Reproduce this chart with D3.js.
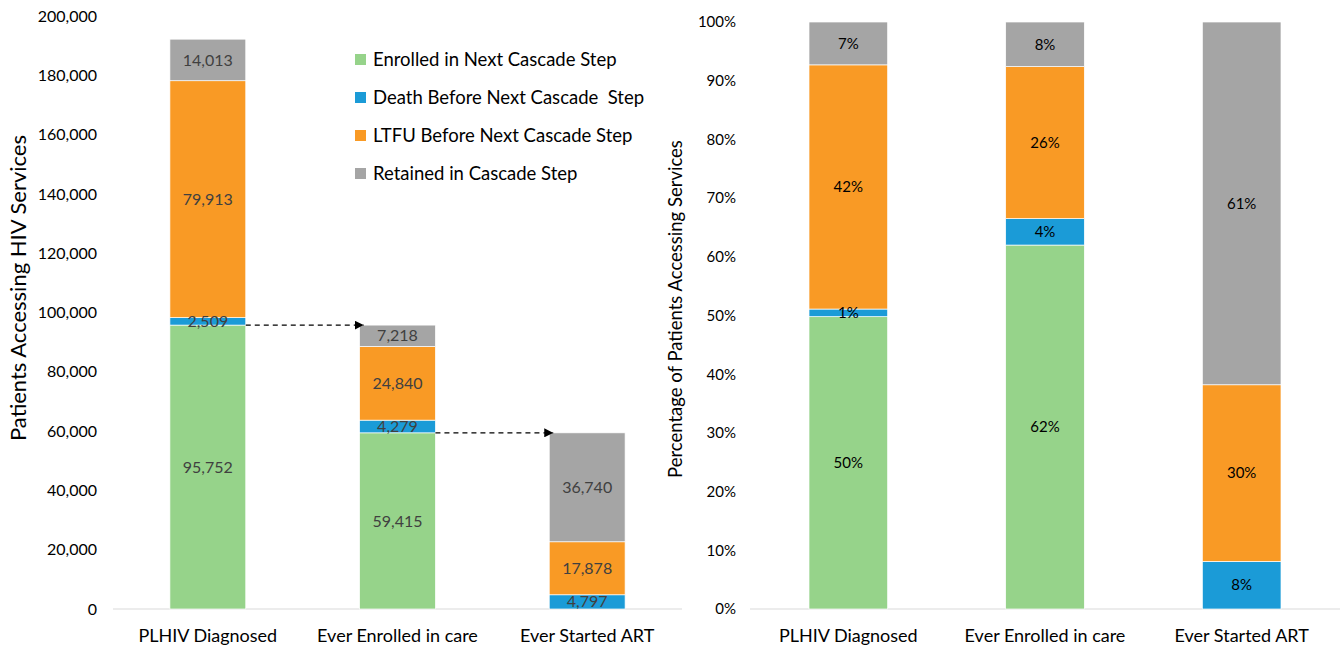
<!DOCTYPE html>
<html>
<head>
<meta charset="utf-8">
<script src="https://cdn.jsdelivr.net/npm/d3@7"></script>
<style>
  body { margin: 0; background: #fff; }
  svg text { font-family: Lato, "Open Sans", sans-serif; }
</style>
</head>
<body>
<div id="chart"></div>
<script>
const categories = ["PLHIV Diagnosed", "Ever Enrolled in care", "Ever Started ART"];
const seriesNames = ["Enrolled in Next Cascade Step", "Death Before Next Cascade  Step", "LTFU Before Next Cascade Step", "Retained in Cascade Step"];
const colors = ["#96d38a", "#1b9bd7", "#f99a25", "#a5a5a5"];

// patient counts, per category: [enrolled, death, ltfu, retained]
const enrolled = [95752, 59415, 0];
const death = [2509, 4279, 4797];
const ltfu = [79913, 24840, 17878];
const retained = [14013, 7218, 36740];

// percentage of patients
const pctEnrolled = [49.8, 62.0, 0];
const pctDeath = [1.3, 4.5, 8.1];
const pctLtfu = [41.6, 25.9, 30.1];
const pctRetained = [7.3, 7.6, 61.8];
const pctLabels = [["50%", "1%", "42%", "7%"], ["62%", "4%", "26%", "8%"], ["", "8%", "30%", "61%"]];

const countTicks = [0, 20000, 40000, 60000, 80000, 100000, 120000, 140000, 160000, 180000, 200000];
const pctTicks = [0, 0.1, 0.2, 0.3, 0.4, 0.5, 0.6, 0.7, 0.8, 0.9, 1];

const width = 1343;
const height = 649;

const svg = d3.select("#chart").append("svg")
    .attr("width", width)
    .attr("height", height);

function stackRows(cols){
    return categories.map((c, i) => {
        let acc = 0;
        return cols.map((col, k) => {
            const y0 = acc;
            acc += col[i];
            return {cat: c, idx: i, k: k, y0: y0, y1: acc, v: col[i]};
        });
    });
}

// ---------- left chart ----------
const xL = d3.scaleBand().domain(categories).range([113, 682]).paddingInner(0.6).paddingOuter(0.3);
const yL = d3.scaleLinear().domain([0, 200000]).range([609, 16]);

const left = svg.append("g");

left.append("g")
    .attr("transform", "translate(113,0)")
    .call(d3.axisLeft(yL).tickValues(countTicks).tickFormat(d3.format(",")).tickSize(0).tickPadding(16))
    .call(g => g.select(".domain").remove())
    .call(g => g.selectAll("text").attr("font-size", 16).attr("fill", "#000").style("font-family", "Lato, sans-serif"));

left.append("line")
    .attr("x1", 113).attr("x2", 682)
    .attr("y1", yL(0)).attr("y2", yL(0))
    .attr("stroke", "#d9d9d9").attr("stroke-width", 1);

const rowsL = stackRows([enrolled, death, ltfu, retained]);

left.selectAll("g.bar")
    .data(rowsL)
    .enter().append("g")
    .attr("class", "bar")
    .selectAll("rect")
    .data(d => d.filter(s => s.v > 0))
    .enter().append("rect")
    .attr("x", d => xL(d.cat))
    .attr("width", xL.bandwidth())
    .attr("y", d => yL(d.y1))
    .attr("height", d => yL(d.y0) - yL(d.y1))
    .attr("fill", d => colors[d.k])
    .attr("stroke", "#fff").attr("stroke-width", 0.7);

left.selectAll("text.val")
    .data(rowsL.flat().filter(s => s.v > 0))
    .enter().append("text")
    .attr("class", "val")
    .attr("x", d => xL(d.cat) + xL.bandwidth() / 2)
    .attr("y", d => (yL(d.y0) + yL(d.y1)) / 2)
    .attr("dy", "0.35em")
    .attr("text-anchor", "middle")
    .attr("font-size", 16)
    .attr("fill", "#404040")
    .text(d => d3.format(",")(d.v));

// dashed arrows from enrolled level to next bar
svg.append("defs").append("marker")
    .attr("id", "arrow")
    .attr("viewBox", "0 0 10 10")
    .attr("refX", 10).attr("refY", 5)
    .attr("markerWidth", 9).attr("markerHeight", 9)
    .attr("markerUnits", "userSpaceOnUse")
    .attr("orient", "auto")
    .append("path").attr("d", "M0,0L10,5L0,10Z").attr("fill", "#000");

left.selectAll("line.arrow")
    .data([0, 1])
    .enter().append("line")
    .attr("class", "arrow")
    .attr("x1", i => xL(categories[i]) + xL.bandwidth())
    .attr("x2", i => xL(categories[i + 1]) + 4)
    .attr("y1", i => yL(enrolled[i]))
    .attr("y2", i => yL(enrolled[i]))
    .attr("stroke", "#000")
    .attr("stroke-width", 1.2)
    .attr("stroke-dasharray", "5,4")
    .attr("marker-end", "url(#arrow)");

left.selectAll("text.cat")
    .data(categories)
    .enter().append("text")
    .attr("class", "cat")
    .attr("x", d => xL(d) + xL.bandwidth() / 2)
    .attr("y", 642)
    .attr("text-anchor", "middle")
    .attr("font-size", 18)
    .attr("fill", "#000")
    .text(d => d);

left.append("text")
    .attr("transform", "translate(26,288) rotate(-90)")
    .attr("text-anchor", "middle")
    .attr("font-size", 22)
    .attr("fill", "#000")
    .text("Patients Accessing HIV Services");

// legend
const legend = left.selectAll("g.legend")
    .data(seriesNames)
    .enter().append("g")
    .attr("class", "legend")
    .attr("transform", (d, i) => `translate(355,${60 + i * 38})`);

legend.append("rect")
    .attr("x", 0).attr("y", -6)
    .attr("width", 11).attr("height", 11)
    .attr("fill", (d, i) => colors[i]);

legend.append("text")
    .attr("x", 18).attr("y", 0)
    .attr("dy", "0.35em")
    .attr("font-size", 18.5)
    .attr("fill", "#000")
    .style("white-space", "pre")
    .text(d => d);

// ---------- right chart ----------
const xR = d3.scaleBand().domain(categories).range([750, 1340]).paddingInner(0.6).paddingOuter(0.3);
const yR = d3.scaleLinear().domain([0, 1]).range([609, 22]);

const right = svg.append("g");

right.append("g")
    .attr("transform", "translate(750,0)")
    .call(d3.axisLeft(yR).tickValues(pctTicks).tickFormat(d3.format(".0%")).tickSize(0).tickPadding(14))
    .call(g => g.select(".domain").remove())
    .call(g => g.selectAll("text").attr("font-size", 15).attr("fill", "#000").style("font-family", "Lato, sans-serif"));

right.append("line")
    .attr("x1", 750).attr("x2", 1340)
    .attr("y1", yR(0)).attr("y2", yR(0))
    .attr("stroke", "#d9d9d9").attr("stroke-width", 1);

const rowsR = stackRows([pctEnrolled, pctDeath, pctLtfu, pctRetained].map(a => a.map(v => v / 100)));

right.selectAll("g.bar")
    .data(rowsR)
    .enter().append("g")
    .attr("class", "bar")
    .selectAll("rect")
    .data(d => d.filter(s => s.v > 0))
    .enter().append("rect")
    .attr("x", d => xR(d.cat))
    .attr("width", xR.bandwidth())
    .attr("y", d => yR(d.y1))
    .attr("height", d => yR(d.y0) - yR(d.y1))
    .attr("fill", d => colors[d.k])
    .attr("stroke", "#fff").attr("stroke-width", 0.7);

right.selectAll("text.val")
    .data(rowsR.flat().filter(s => s.v > 0))
    .enter().append("text")
    .attr("class", "val")
    .attr("x", d => xR(d.cat) + xR.bandwidth() / 2)
    .attr("y", d => (yR(d.y0) + yR(d.y1)) / 2)
    .attr("dy", "0.35em")
    .attr("text-anchor", "middle")
    .attr("font-size", 15)
    .attr("fill", "#000")
    .text(d => pctLabels[d.idx][d.k]);

right.selectAll("text.cat")
    .data(categories)
    .enter().append("text")
    .attr("class", "cat")
    .attr("x", d => xR(d) + xR.bandwidth() / 2)
    .attr("y", 642)
    .attr("text-anchor", "middle")
    .attr("font-size", 18)
    .attr("fill", "#000")
    .text(d => d);

right.append("text")
    .attr("transform", "translate(682,309) rotate(-90)")
    .attr("text-anchor", "middle")
    .attr("font-size", 18.5)
    .attr("fill", "#000")
    .text("Percentage of Patients Accessing Services");
</script>
</body>
</html>
